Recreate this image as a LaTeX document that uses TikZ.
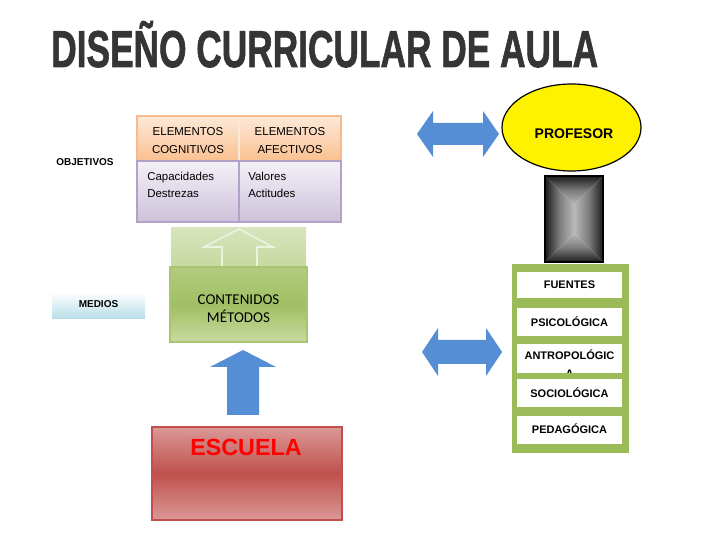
\documentclass[tikz,border=0pt]{standalone}
\usepackage{graphicx}
\usepackage{fontspec}
\setmainfont{Liberation Sans}
\newfontfamily\calib{Carlito}
\newfontfamily\titlefont[FakeBold=1.6]{Liberation Sans Bold}
\usetikzlibrary{shapes.geometric}
\definecolor{titlegray}{RGB}{54,52,53}
\definecolor{arrowblue}{RGB}{85,142,213}
\definecolor{hdrtop}{RGB}{253,233,217}
\definecolor{hdrbot}{RGB}{250,192,143}
\definecolor{hdrline}{RGB}{248,185,140}
\definecolor{bodytop}{RGB}{244,241,248}
\definecolor{bodybot}{RGB}{204,193,218}
\definecolor{bodyline}{RGB}{179,162,199}
\definecolor{grn}{RGB}{155,187,89}
\definecolor{grnuptop}{RGB}{215,229,189}
\definecolor{grnupbot}{RGB}{198,217,158}
\definecolor{grnpale}{RGB}{236,242,224}
\definecolor{grntop}{RGB}{178,204,128}
\definecolor{grnmid}{RGB}{160,191,98}
\definecolor{grnlow}{RGB}{200,218,160}
\definecolor{redfill}{RGB}{192,80,77}
\definecolor{pinkfill}{RGB}{219,152,150}
\definecolor{bluepale}{RGB}{183,222,232}
\definecolor{gdark}{RGB}{28,28,28}
\definecolor{gmid}{RGB}{125,125,125}
\definecolor{glight}{RGB}{185,185,185}
\tikzset{
  lbl/.style={inner sep=0pt, anchor=base},
  tabtxt/.style={lbl, font=\fontsize{8.6pt}{10pt}\selectfont},
  tabtxtl/.style={inner sep=0pt, anchor=base west, font=\fontsize{8.6pt}{10pt}\selectfont},
  sidelbl/.style={lbl, font=\fontsize{7.5pt}{9pt}\selectfont\bfseries},
  srcbox/.style={draw=grn, fill=white, line width=0.9pt},
  srctxt/.style={lbl, font=\fontsize{8.25pt}{10pt}\selectfont\bfseries},
}
\begin{document}
\begin{tikzpicture}[x=0.75pt,y=-0.75pt]
\useasboundingbox (0,0) rectangle (701,549);
\fill[white] (0,0) rectangle (701,549);

% title
\node[inner sep=0pt, anchor=base west, text=titlegray] (title) at (51,67)
  {\scalebox{0.682}[1]{\titlefont\fontsize{38.8pt}{40pt}\selectfont DISEÑO CURRICULAR DE AULA}};

% objetivos table
\shade[top color=hdrtop, bottom color=hdrbot] (137,116) rectangle (341,161);
\draw[hdrline, line width=1pt] (137,116) rectangle (341,161);
\draw[hdrtop, line width=1pt] (239,117) -- (239,160);
\shade[top color=bodytop, bottom color=bodybot] (137,161) rectangle (341,222);
\draw[bodyline, line width=1.4pt] (137,161) rectangle (341,222);
\draw[bodyline, line width=1pt] (239,161) -- (239,222);
\node[tabtxt] (e1a) at (188,136) {ELEMENTOS};
\node[tabtxt] (e1b) at (188,154) {COGNITIVOS};
\node[tabtxt] (e2a) at (290,136) {ELEMENTOS};
\node[tabtxt] (e2b) at (290,154) {AFECTIVOS};
\node[tabtxtl] (c1a) at (147,181) {Capacidades};
\node[tabtxtl] (c1b) at (147,198) {Destrezas};
\node[tabtxtl] (c2a) at (248,181) {Valores};
\node[tabtxtl] (c2b) at (248,198) {Actitudes};
\node[sidelbl] (obj) at (85,166) {OBJETIVOS};

% medios
\shade[top color=white, bottom color=bluepale] (52,292) rectangle (145,319);
\node[sidelbl] (medios) at (98.5,308) {MEDIOS};

% green block
\shade[top color=grnuptop, bottom color=grnupbot] (171,228) rectangle (306,267);
\draw[grnpale, line width=1.2pt, line join=miter] (222,267) -- (222,247) -- (204,247) -- (239,229) -- (273,247) -- (257,247) -- (257,267);
\shade[top color=grntop, bottom color=grnlow, middle color=grnmid] (170,267) rectangle (307,342);
\draw[grn!85!white, line width=1.6pt] (170,267) rectangle (307,342);
\node[lbl, font=\calib\fontsize{11.25pt}{13pt}\selectfont] (cont) at (238.5,305) {CONTENIDOS};
\node[lbl, font=\calib\fontsize{11.25pt}{13pt}\selectfont] (met) at (238.5,323) {MÉTODOS};

% blue up arrow
\fill[arrowblue] (227,415) -- (227,367) -- (210,367) -- (243,350) -- (276,367) -- (259,367) -- (259,415) -- cycle;

% escuela
\shade[top color=pinkfill, bottom color=pinkfill, middle color=redfill] (152,427) rectangle (342,520);
\draw[redfill, line width=1.2pt] (152,427) rectangle (342,520);
\node[lbl, text=red, font=\fontsize{17.5pt}{20pt}\selectfont\bfseries] (esc) at (246,456) {ESCUELA};

% double arrows
\fill[arrowblue] (417,134) -- (433,111) -- (433,123) -- (483,123) -- (483,111) -- (499,134) -- (483,157) -- (483,145) -- (433,145) -- (433,157) -- cycle;
\fill[arrowblue] (422,352) -- (438,328) -- (438,340) -- (486,340) -- (486,328) -- (502,352) -- (486,376) -- (486,364) -- (438,364) -- (438,376) -- cycle;

% profesor
\node[ellipse, draw=black, fill=yellow, line width=0.9pt, inner sep=0pt,
      minimum width=104.25pt, minimum height=65.25pt] (profell) at (571.5,127.5) {};
\node[lbl, font=\fontsize{10.5pt}{12pt}\selectfont\bfseries] (prof) at (574,139) {PROFESOR};

% gray block
\shade[top color=gdark, bottom color=glight, middle color=gmid] (545,176) -- (603,176) -- (574,205) -- cycle;
\shade[top color=glight, bottom color=gdark, middle color=gmid] (545,262) -- (603,262) -- (574,233) -- cycle;
\shade[left color=gdark, right color=glight, middle color=gmid] (545,176) -- (574,205) -- (574,233) -- (545,262) -- cycle;
\shade[left color=glight, right color=gdark, middle color=gmid] (603,176) -- (574,205) -- (574,233) -- (603,262) -- cycle;
\draw[black, line width=0.8pt] (545,176) rectangle (603,262);

% fuentes frame
\fill[grn] (512,264) rectangle (629,453);
\draw[srcbox] (516,271) rectangle (623,299);
\draw[srcbox] (516,307) rectangle (623,337);
\draw[srcbox] (516,343) rectangle (623,374);
\draw[srcbox] (516,378) rectangle (623,408);
\draw[srcbox] (516,415) rectangle (623,445);
\node[srctxt] (fu) at (569.5,289) {FUENTES};
\node[srctxt] (ps) at (569.5,327) {PSICOLÓGICA};
\begin{scope}
\clip (517,344) rectangle (622,373);
\node[srctxt] (an) at (569.5,360) {ANTROPOLÓGIC};
\node[srctxt] (an2) at (569.5,378) {A};
\end{scope}
\node[srctxt] (so) at (569.5,398) {SOCIOLÓGICA};
\node[srctxt] (pe) at (569.5,434) {PEDAGÓGICA};
\end{tikzpicture}
\end{document}
